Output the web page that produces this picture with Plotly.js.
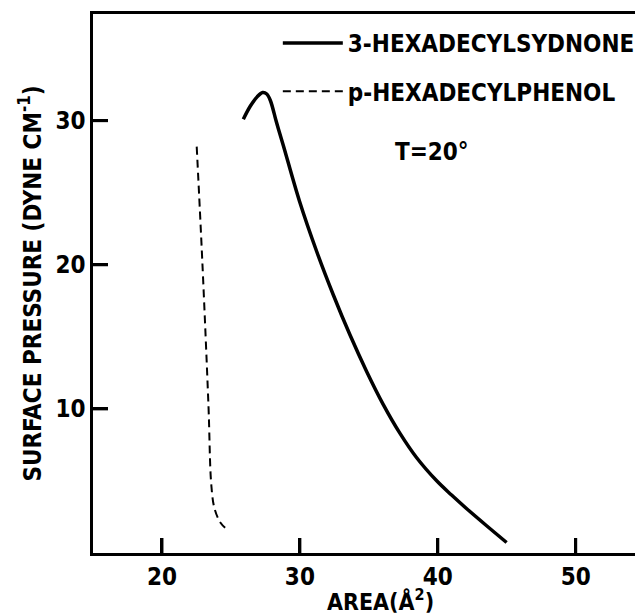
<!DOCTYPE html>
<html>
<head>
<meta charset="utf-8">
<script src="https://cdn.plot.ly/plotly-3.0.1.min.js"></script>
<style>html,body{margin:0;padding:0;background:#fff;}#chart{width:635px;height:615px;}</style>
</head>
<body>
<div id="chart"></div>
<script>
// 3-Hexadecylsydnone isotherm
var sydnoneArea     = [25.9, 26.4, 26.9, 27.3, 27.6, 27.86, 28.3, 28.8, 29.98, 31.22, 32.42, 33.63, 34.84, 36.05, 37.26, 38.47, 39.92, 41.0, 42.1, 43.54, 44.99];
var sydnonePressure = [30.1, 31.0, 31.65, 31.95, 31.85, 31.4, 29.9, 28.28, 24.39, 20.92, 17.92, 15.14, 12.6, 10.3, 8.30, 6.61, 5.01, 4.02, 3.07, 1.89, 0.73];
// p-Hexadecylphenol isotherm
var phenolArea     = [22.52, 22.93, 23.37, 23.58, 23.82, 24.26, 24.7];
var phenolPressure = [28.2, 20.15, 10.3, 4.7, 3.06, 2.08, 1.65];

var seriesNames = ['3-HEXADECYLSYDNONE', 'p-HEXADECYLPHENOL'];
var xTicks = [20, 30, 40, 50];
var yTicks = [10, 20, 30];
var xRange = [15, 54.3];
var yRange = [0, 37.4];
var xTitle = 'AREA(Å<sup>2</sup>)';
var yTitle = 'SURFACE PRESSURE (DYNE CM<sup>-1</sup>)';
var noteText = 'T=20°';

var FONT = '"DejaVu Sans Condensed", "Liberation Sans Narrow", "DejaVu Sans", sans-serif';
var W = 635, H = 615, M = {l: 93, r: 0, t: 14, b: 62};
var TICKLEN = 15;
var plotW = W - M.l - M.r, plotH = H - M.t - M.b;

var traces = [
  {x: sydnoneArea, y: sydnonePressure, name: seriesNames[0], mode: 'lines',
   line: {color: '#000', width: 3.5, shape: 'spline', smoothing: 1}, legendgroup: 'a'},
  {x: phenolArea, y: phenolPressure, name: seriesNames[1], mode: 'lines',
   line: {color: '#000', width: 2, dash: '8px,5px', shape: 'spline', smoothing: 1}, legendgroup: 'b'}
];

// inward tick marks drawn on the axes' own scales, derived from the tick arrays
var dyTick = TICKLEN / plotH * (yRange[1] - yRange[0]);
var dxTick = TICKLEN / plotW * (xRange[1] - xRange[0]);
var tx = [], ty = [];
xTicks.forEach(function (v) { tx.push(v, v, null); ty.push(yRange[0], yRange[0] + dyTick, null); });
yTicks.forEach(function (v) { tx.push(xRange[0], xRange[0] + dxTick, null); ty.push(v, v, null); });
traces.push({x: tx, y: ty, mode: 'lines', line: {color: '#000', width: 3},
             showlegend: false, hoverinfo: 'skip', connectgaps: false});

var layout = {
  width: W, height: H,
  margin: {l: M.l, r: M.r, t: M.t, b: M.b, autoexpand: false},
  paper_bgcolor: '#fff', plot_bgcolor: '#fff',
  font: {family: FONT, color: '#000', size: 22, weight: 'bold'},
  showlegend: true,
  legend: {x: 0.341, y: 0.987, xanchor: 'left', yanchor: 'top', bgcolor: 'rgba(0,0,0,0)',
           font: {family: FONT, size: 24, color: '#000', weight: 'bold'},
           itemwidth: 60, traceorder: 'grouped', tracegroupgap: 14},
  xaxis: {range: xRange, tickmode: 'array', tickvals: xTicks,
          ticks: 'inside', ticklen: TICKLEN, tickwidth: 3, tickcolor: '#000',
          showline: true, linewidth: 2.5, linecolor: '#000', mirror: true,
          showgrid: false, zeroline: false,
          tickfont: {family: FONT, size: 24, weight: 'bold', color: '#000'}},
  yaxis: {range: yRange, tickmode: 'array', tickvals: yTicks,
          ticks: 'inside', ticklen: TICKLEN, tickwidth: 3, tickcolor: '#000',
          showline: true, linewidth: 2.5, linecolor: '#000', mirror: false,
          showgrid: false, zeroline: false,
          tickfont: {family: FONT, size: 24, weight: 'bold', color: '#000'},
          title: {text: yTitle, standoff: 8,
                  font: {family: FONT, size: 24, weight: 'bold', color: '#000'}}},
  annotations: [
    {x: 39.6, y: 27.8, xref: 'x', yref: 'y', text: noteText, showarrow: false,
     font: {family: FONT, size: 24, weight: 'bold', color: '#000'}},
    {x: 0.531, y: -0.088, xref: 'paper', yref: 'paper', xanchor: 'center', yanchor: 'middle',
     text: xTitle, showarrow: false,
     font: {family: FONT, size: 23, weight: 'bold', color: '#000'}}
  ]
};

Plotly.newPlot('chart', traces, layout, {displayModeBar: false});
</script>
</body>
</html>
